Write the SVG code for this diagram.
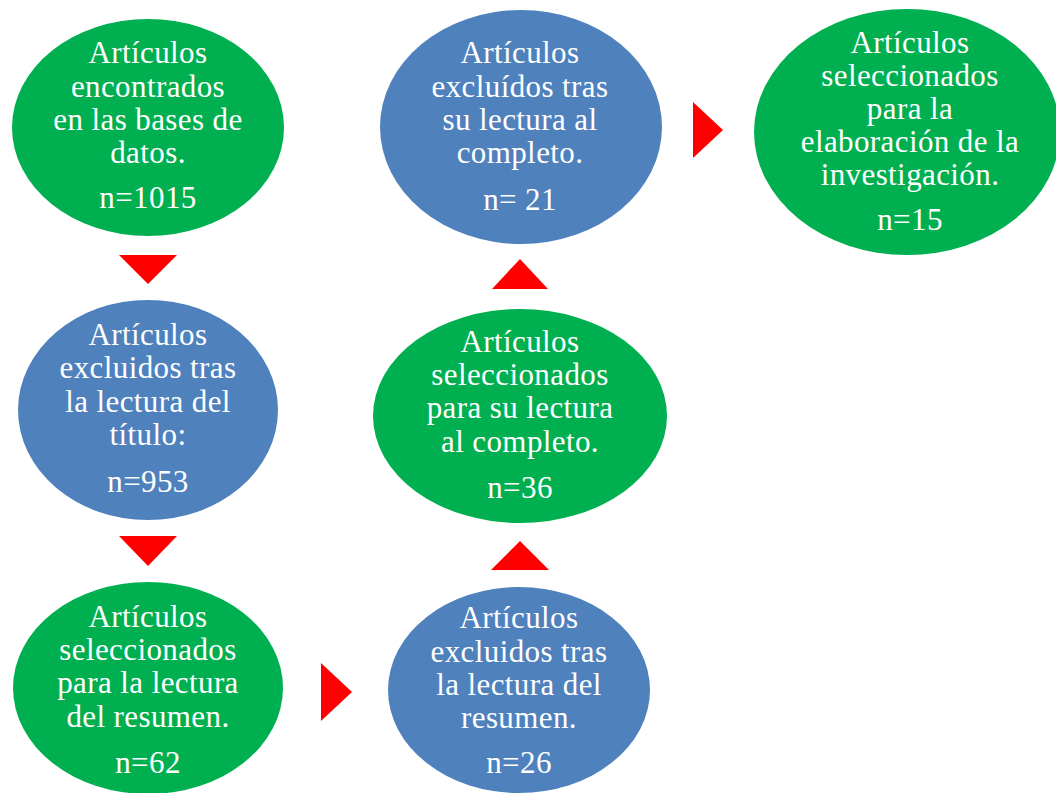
<svg xmlns="http://www.w3.org/2000/svg" width="1056" height="793" viewBox="0 0 1056 793">
<style>
.g{fill:#00B050}
.b{fill:#4F81BD}
.a{fill:#FF0000}
text{font-family:"Liberation Serif","Times New Roman",serif;font-size:31px;letter-spacing:0.4px;fill:#FFFFFF;text-anchor:middle}
</style>
<rect width="1056" height="793" fill="#FFFFFF"/>
<g id="connectors">
<polygon class="a" points="119,255 177,255 148,284"/>
<polygon class="a" points="119,536 177,536 148,566"/>
<polygon class="a" points="321,663 321,721 352,692"/>
<polygon class="a" points="491,570 549,570 520,541"/>
<polygon class="a" points="492,289 548,289 520,259"/>
<polygon class="a" points="693,102 693,158 723,130"/>
</g>
<g id="n1">
<ellipse class="g" cx="148" cy="127.5" rx="136" ry="108.5"/>
<text x="148" y="63">Artículos</text>
<text x="148" y="97">encontrados</text>
<text x="148" y="130">en las bases de</text>
<text x="148" y="163">datos.</text>
<text x="148" y="208">n=1015</text>
</g>
<g id="n2">
<ellipse class="b" cx="148" cy="410" rx="130" ry="110"/>
<text x="148" y="345">Artículos</text>
<text x="148" y="378">excluidos tras</text>
<text x="148" y="412">la lectura del</text>
<text x="148" y="445">título:</text>
<text x="148" y="492">n=953</text>
</g>
<g id="n3">
<ellipse class="g" cx="148" cy="688" rx="135" ry="106"/>
<text x="148" y="627">Artículos</text>
<text x="148" y="660">seleccionados</text>
<text x="148" y="693">para la lectura</text>
<text x="148" y="727">del resumen.</text>
<text x="148" y="773">n=62</text>
</g>
<g id="n4">
<ellipse class="b" cx="519" cy="690" rx="131" ry="103"/>
<text x="519" y="628">Artículos</text>
<text x="519" y="662">excluidos tras</text>
<text x="519" y="695">la lectura del</text>
<text x="519" y="728">resumen.</text>
<text x="519" y="773">n=26</text>
</g>
<g id="n5">
<ellipse class="g" cx="520" cy="416" rx="147" ry="107"/>
<text x="520" y="352">Artículos</text>
<text x="520" y="385">seleccionados</text>
<text x="520" y="418">para su lectura</text>
<text x="520" y="452">al completo.</text>
<text x="520" y="498">n=36</text>
</g>
<g id="n6">
<ellipse class="b" cx="521" cy="127" rx="141" ry="117"/>
<text x="520" y="63">Artículos</text>
<text x="520" y="97">excluídos tras</text>
<text x="520" y="130">su lectura al</text>
<text x="520" y="163">completo.</text>
<text x="520" y="210">n= 21</text>
</g>
<g id="n7">
<ellipse class="g" cx="907" cy="132" rx="153" ry="123"/>
<text x="910" y="53">Artículos</text>
<text x="910" y="86">seleccionados</text>
<text x="910" y="119">para la</text>
<text x="910" y="152">elaboración de la</text>
<text x="910" y="185">investigación.</text>
<text x="910" y="230">n=15</text>
</g>
</svg>
